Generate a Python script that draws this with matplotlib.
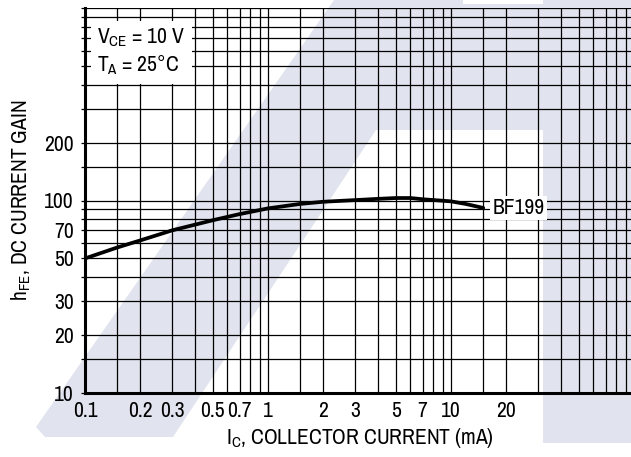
import matplotlib
matplotlib.use('Agg')
import matplotlib.pyplot as plt
from matplotlib import font_manager
from matplotlib.patches import Polygon
from matplotlib.ticker import FixedLocator, NullFormatter

# data (BF199, VCE = 10 V, TA = 25 C)
ic_ma = [0.1, 0.15, 0.2, 0.3, 0.5, 0.7, 1, 1.5, 2, 3, 4, 5, 6, 7, 10, 12, 15]
hfe = [50, 57, 62, 70, 79, 85, 91, 96, 98.5, 100.5, 102, 103, 103, 101.5, 99, 96, 91.5]

x_ticks = [0.1, 0.2, 0.3, 0.5, 0.7, 1, 2, 3, 5, 7, 10, 20]
x_labels = ['0.1', '0.2', '0.3', '0.5', '0.7', '1', '2', '3', '5', '7', '10', '20']
y_ticks = [10, 20, 30, 50, 70, 100, 200]
y_labels = ['10', '20', '30', '50', '70', '100', '200']

# grid of the log paper
x_grid = [0.1, 0.15, 0.2, 0.3, 0.4, 0.5, 0.6, 0.7, 0.8, 0.9,
          1, 1.5, 2, 3, 4, 5, 6, 7, 8, 9,
          10, 15, 20, 30, 40, 50, 60, 70, 80, 90, 100]
y_grid = [10, 15, 20, 30, 40, 50, 60, 70, 80, 90,
          100, 150, 200, 300, 400, 500, 600, 700, 800, 900, 1000]

# faint watermark in the background (pixel coords, y down)
logo_px = [(36, 427), (334, 0), (463, 0), (463, 4), (543, 4), (543, 0), (631, 0),
           (631, 443), (543, 443), (543, 130), (376, 130), (173, 437), (45, 437)]

# narrow sans like the datasheet, whichever is installed
installed = {f.name for f in font_manager.fontManager.ttflist}
wanted = ['Liberation Sans Narrow', 'Arial Narrow', 'Archivo Narrow', 'Roboto Condensed',
          'Liberation Sans']
FONT = [f for f in wanted if f in installed][:1] + ['DejaVu Sans']

W, H = 631, 457
plt.rcParams['font.family'] = FONT
plt.rcParams['mathtext.default'] = 'regular'
fs = 15.5

fig = plt.figure(figsize=(W / 100, H / 100), dpi=100)
fig.add_artist(Polygon([(x / W, 1 - y / H) for x, y in logo_px], closed=True,
                       transform=fig.transFigure, facecolor='#e1e4ee',
                       edgecolor='none', zorder=-1))

ax = fig.add_axes([85 / W, (H - 393) / H, (634 - 85) / W, (393 - 8) / H])
ax.patch.set_alpha(0)
ax.set_xscale('log')
ax.set_yscale('log')
ax.set_xlim(0.1, 100)
ax.set_ylim(10, 1000)

ax.plot(ic_ma, hfe, color='black', lw=2.7, solid_capstyle='round', zorder=4)

ax.xaxis.set_major_locator(FixedLocator(x_ticks))
ax.xaxis.set_minor_locator(FixedLocator(x_grid))
ax.set_xticklabels(x_labels)
ax.xaxis.set_minor_formatter(NullFormatter())
ax.yaxis.set_major_locator(FixedLocator(y_ticks))
ax.yaxis.set_minor_locator(FixedLocator(y_grid))
ax.set_yticklabels(y_labels)
ax.yaxis.set_minor_formatter(NullFormatter())

ax.grid(True, which='both', color='black', lw=0.9)
ax.set_axisbelow(True)
ax.tick_params(axis='x', which='both', length=0, pad=6, labelsize=fs)
ax.tick_params(axis='y', which='both', length=3, width=0.9, pad=5, labelsize=fs)

for s in ['top', 'right']:
    ax.spines[s].set_visible(False)
for s in ['left', 'bottom']:
    ax.spines[s].set_linewidth(2.2)

ax.set_xlabel('I$_{C}$, COLLECTOR CURRENT (mA)', fontsize=fs, labelpad=3)
ax.set_ylabel('h$_{FE}$, DC CURRENT GAIN', fontsize=fs, labelpad=8)

ax.text(0.117, 590, 'V$_{CE}$ = 10 V\nT$_{A}$ = 25°C', fontsize=fs, va='center',
        ha='left', linespacing=1.25, zorder=5,
        bbox=dict(facecolor='white', edgecolor='none', pad=4.5))
ax.text(ic_ma[-1] * 1.12, hfe[-1], 'BF199', fontsize=fs, va='center', ha='left',
        zorder=5, bbox=dict(facecolor='white', edgecolor='none', pad=1.5))

fig.savefig('out.png', dpi=100)
